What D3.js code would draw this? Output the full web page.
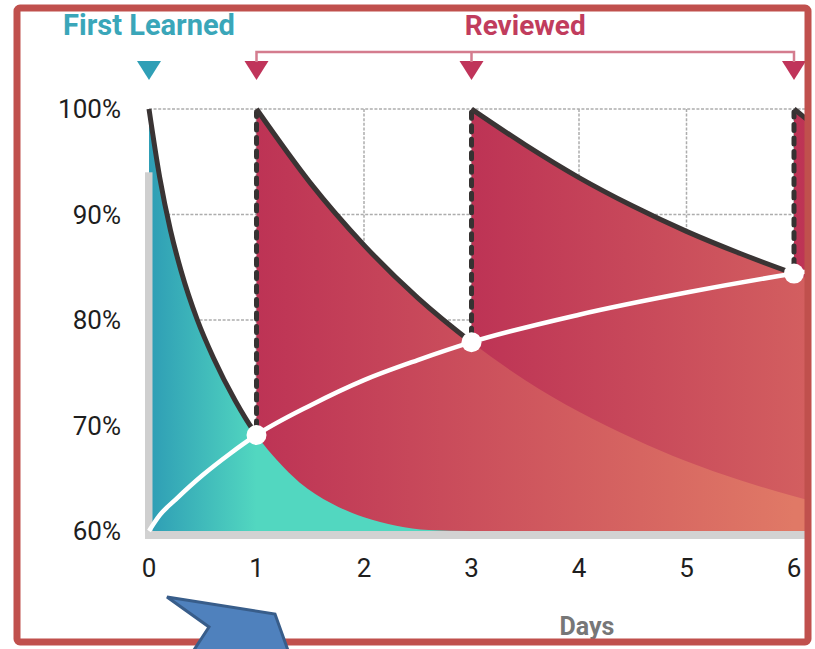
<!DOCTYPE html>
<html>
<head>
<meta charset="utf-8">
<script src="https://cdn.jsdelivr.net/npm/d3@7"></script>
<style>
  body { margin: 0; background: #fff; }
  text { font-family: Roboto, "DejaVu Sans", sans-serif; }
</style>
</head>
<body>
<div id="area"></div>
<script>
'use strict';

// axis ticks
const dayTicks = [0, 1, 2, 3, 4, 5, 6];
const pctTicks = [60, 70, 80, 90, 100];

// days where the material was learned / reviewed
const learnDay = 0;
const reviewDays = [1, 3, 6];

// forgetting curves, [day, percent]
const curveLearn = [[0, 100], [0.1, 93.5], [0.2, 88.5], [0.3, 84.6], [0.45, 80], [0.6, 76.4], [0.8, 72.4], [1, 69.1],
  [1.2, 66.6], [1.4, 64.6], [1.7, 62.6], [2.0, 61.3], [2.3, 60.5], [2.6, 60.1], [3, 60]];
const curveReview1 = [[1, 100], [1.5, 93.0], [2, 87.1], [2.5, 82.1], [3, 77.9], [3.5, 74.3], [4, 71.3], [4.5, 68.8],
  [5, 66.6], [5.5, 64.8], [6, 63.3], [6.5, 62.0], [7, 60.9]];
const curveReview2 = [[3, 100], [3.5, 96.6], [4, 93.5], [4.5, 90.8], [5, 88.4], [5.5, 86.3], [6, 84.4], [6.5, 82.7], [7, 81.3]];
const curveReview3 = [[6, 100], [6.5, 96], [7, 92.5]];

// retention after each review (white line)
const retention = [[0, 60], [0.1, 61.5], [0.25, 63.0], [0.5, 65.3], [0.75, 67.3], [1, 69.1], [1.5, 71.9], [2, 74.3],
  [2.5, 76.2], [3, 77.9], [4, 80.5], [5, 82.6], [6, 84.4], [7, 85.9]];
const dotDays = [[1, 69.1], [3, 77.9], [6, 84.4]];

const curves = [
  { data: curveLearn, start: 0, end: 1 },
  { data: curveReview1, start: 1, end: 3 },
  { data: curveReview2, start: 3, end: 6 },
  { data: curveReview3, start: 6, end: 7 }
];

const W = 815, H = 649;
const svg = d3.select('#area').append('svg').attr('width', W).attr('height', H);
const defs = svg.append('defs');

const x = d3.scaleLinear().domain([0, 6]).range([149, 794]);
const y = d3.scaleLinear().domain([60, 100]).range([531, 109]);

// everything of the plot is cut at the inner edge of the frame
defs.append('clipPath').attr('id', 'plotClip')
  .append('rect').attr('x', 0).attr('y', 0).attr('width', 805).attr('height', H);

const plot = svg.append('g').attr('clip-path', 'url(#plotClip)');

// dotted grid
const grid = plot.append('g')
  .attr('stroke', '#adadad').attr('stroke-width', 1.5).attr('stroke-dasharray', '3,1.6');
grid.selectAll('line.h').data([70, 80, 90, 100]).enter().append('line')
  .attr('x1', x(0)).attr('x2', 810)
  .attr('y1', d => y(d)).attr('y2', d => y(d));
grid.selectAll('line.v').data(dayTicks.slice(1)).enter().append('line')
  .attr('x1', d => x(d)).attr('x2', d => x(d))
  .attr('y1', y(100)).attr('y2', y(60));

// gradients, one per area, starting at its own day
curves.forEach(function (c, i) {
  let g = defs.append('linearGradient').attr('id', 'grad' + i)
    .attr('gradientUnits', 'userSpaceOnUse')
    .attr('x1', x(c.start)).attr('x2', i == 0 ? x(1) : x(c.start + 5))
    .attr('y1', 0).attr('y2', 0);
  if (i == 0) {
    g.append('stop').attr('offset', 0).attr('stop-color', '#2e9db5');
    g.append('stop').attr('offset', 1).attr('stop-color', '#52d7c0');
  } else {
    g.append('stop').attr('offset', 0).attr('stop-color', '#bd3355');
    g.append('stop').attr('offset', 1).attr('stop-color', '#e07966');
  }
});

const area = d3.area()
  .x(d => x(d[0]))
  .y0(y(60))
  .y1(d => y(Math.max(60, d[1])))
  .curve(d3.curveMonotoneX);

// later curves below, earlier on top
curves.slice().reverse().forEach(function (c) {
  let i = curves.indexOf(c);
  plot.append('path')
    .attr('d', area(c.data))
    .attr('fill', 'url(#grad' + i + ')');
});

// grey axis bars
plot.append('rect').attr('x', 145).attr('y', y(94)).attr('width', 7.5).attr('height', y(60) - y(94) + 8)
  .attr('fill', '#cfcfcf');
plot.append('rect').attr('x', 145).attr('y', y(60)).attr('width', 670).attr('height', 8)
  .attr('fill', '#d2d2d2');

// dashed drop lines on review days
plot.selectAll('line.drop').data(dotDays).enter().append('line')
  .attr('x1', d => x(d[0])).attr('x2', d => x(d[0]))
  .attr('y1', d => y(d[1]) - 8).attr('y2', y(100) + 3)
  .attr('stroke', '#363232').attr('stroke-width', 5)
  .attr('stroke-linecap', 'round').attr('stroke-dasharray', '6,7.5');

// forgetting curves, only until the next review
const line = d3.line().x(d => x(d[0])).y(d => y(d[1])).curve(d3.curveMonotoneX);
curves.forEach(function (c, i) {
  defs.append('clipPath').attr('id', 'lineClip' + i)
    .append('rect').attr('x', x(c.start) - 3).attr('y', 0)
    .attr('width', x(c.end) - x(c.start) + 3).attr('height', H);
  plot.append('path')
    .attr('d', line(c.data))
    .attr('clip-path', 'url(#lineClip' + i + ')')
    .attr('fill', 'none').attr('stroke', '#3a3434').attr('stroke-width', 5);
});

// retention line and dots
plot.append('path')
  .attr('d', line(retention))
  .attr('fill', 'none').attr('stroke', '#fff').attr('stroke-width', 4.5);
plot.selectAll('circle').data(dotDays).enter().append('circle')
  .attr('cx', d => x(d[0])).attr('cy', d => y(d[1])).attr('r', 10)
  .attr('fill', '#fff');

// tick labels
svg.selectAll('text.yt').data(pctTicks).enter().append('text')
  .attr('x', 121).attr('y', d => y(d) + 9)
  .attr('text-anchor', 'end').attr('font-size', 26).attr('fill', '#1e1e1e')
  .text(d => d + '%');
svg.selectAll('text.xt').data(dayTicks).enter().append('text')
  .attr('x', d => x(d)).attr('y', 577)
  .attr('text-anchor', 'middle').attr('font-size', 26).attr('fill', '#1e1e1e')
  .text(d => d);
svg.append('text').attr('x', 587).attr('y', 635)
  .attr('text-anchor', 'middle').attr('font-size', 25).attr('font-weight', 700)
  .attr('fill', '#777').text('Days');

// top markers
const tri = d => 'M' + (x(d) - 12) + ',61 L' + (x(d) + 12) + ',61 L' + x(d) + ',80 Z';
svg.append('path').attr('d', tri(learnDay)).attr('fill', '#2f9fb6');
svg.selectAll('path.rev').data(reviewDays).enter().append('path')
  .attr('d', d => tri(d)).attr('fill', '#c0345a');

// bracket over the review days
const bx0 = x(reviewDays[0]), bx1 = x(reviewDays[reviewDays.length - 1]);
svg.append('path')
  .attr('d', 'M' + bx0 + ',62 V52 H' + bx1 + ' V62 M' + x(reviewDays[1]) + ',52 V62')
  .attr('fill', 'none').attr('stroke', '#d47c8e').attr('stroke-width', 2.5);

svg.append('text').attr('x', x(learnDay)).attr('y', 35)
  .attr('text-anchor', 'middle').attr('font-size', 29).attr('font-weight', 700)
  .attr('fill', '#3aa6b9').text('First Learned');
svg.append('text').attr('x', (bx0 + bx1) / 2).attr('y', 35)
  .attr('text-anchor', 'middle').attr('font-size', 28).attr('font-weight', 700)
  .attr('fill', '#c13c5d').text('Reviewed');

// red frame
svg.append('rect').attr('x', 17).attr('y', 8).attr('width', 791).attr('height', 634)
  .attr('rx', 3).attr('fill', 'none').attr('stroke', '#c0504d').attr('stroke-width', 7);

// blue arrow shape at the bottom
svg.append('path')
  .attr('d', 'M167,597 L275,614 L290,656 L190,656 L209,627 Z')
  .attr('fill', '#4f81bd').attr('stroke', '#385d8a').attr('stroke-width', 3)
  .attr('stroke-linejoin', 'miter');
</script>
</body>
</html>
